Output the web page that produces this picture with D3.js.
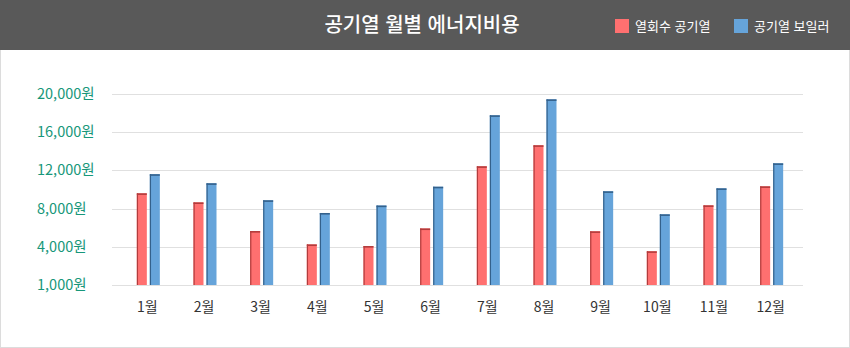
<!DOCTYPE html>
<html lang="ko">
<head>
<meta charset="utf-8">
<script src="https://cdn.jsdelivr.net/npm/d3@7"></script>
<style>
  html, body { margin: 0; padding: 0; background: #fff; }
  svg { display: block; font-family: "Noto Sans CJK KR", "Noto Sans", sans-serif; }
</style>
</head>
<body>
<svg id="chart" width="850" height="348"></svg>
<script>
// Monthly energy cost for two air-source systems (KRW)
const months = ["1월","2월","3월","4월","5월","6월","7월","8월","9월","10월","11월","12월"];
const seriesNames = ["열회수 공기열", "공기열 보일러"];
const heatRecovery = [9600, 8650, 5650, 4250, 4080, 5920, 12430, 14630, 5620, 3530, 8340, 10330];
const airBoiler = [11600, 10650, 8870, 7540, 8320, 10290, 17770, 19440, 9810, 7400, 10120, 12740];
const tickValues = [0, 4000, 8000, 12000, 16000, 20000];
const tickLabels = ["1,000원", "4,000원", "8,000원", "12,000원", "16,000원", "20,000원"];

const fills = ["#ff7070", "#66a4da"];
const edges = ["#b23c3c", "#34618b"];

const svg = d3.select("#chart");
const W = 850, H = 348;

// frame
svg.append("rect").attr("x", 0.5).attr("y", 0.5).attr("width", W - 1).attr("height", H - 1)
  .attr("fill", "#fff").attr("stroke", "#dcdcdc");

// header band
svg.append("rect").attr("x", 0).attr("y", 0).attr("width", W).attr("height", 50).attr("fill", "#595959");
svg.append("text").attr("x", 422).attr("y", 32).attr("text-anchor", "middle")
  .attr("fill", "#fff").attr("font-size", 20).attr("font-weight", 500)
  .text("공기열 월별 에너지비용");

// legend
const legendX = [615, 734];
seriesNames.forEach((name, i) => {
  svg.append("rect").attr("x", legendX[i]).attr("y", 19).attr("width", 14).attr("height", 14).attr("fill", fills[i]);
  svg.append("text").attr("x", legendX[i] + 20).attr("y", 31)
    .attr("fill", "#fff").attr("font-size", 13).text(name);
});

// scales
const y = d3.scaleLinear().domain([0, 20000]).range([285, 94]);
const x0 = d3.scaleBand().domain(months).range([120, 800]);
const x1 = d3.scaleBand().domain(seriesNames).range([0, 23]).paddingInner(3 / 13);

// grid
svg.append("g").selectAll("line").data(tickValues).join("line")
  .attr("x1", 112).attr("x2", 803)
  .attr("y1", d => Math.round(y(d)) + 0.5).attr("y2", d => Math.round(y(d)) + 0.5)
  .attr("stroke", "#e0e0e0").attr("stroke-width", 1);

// y labels
svg.append("g").selectAll("text").data(tickValues).join("text")
  .attr("x", 37).attr("y", d => y(d)).attr("dy", "0.35em")
  .attr("fill", "#17977a").attr("font-size", 14.5)
  .text((d, i) => tickLabels[i]);

// x labels
svg.append("g").selectAll("text").data(months).join("text")
  .attr("x", d => x0(d) + x0.bandwidth() / 2 - 1).attr("y", 307).attr("dy", "0.35em")
  .attr("text-anchor", "middle").attr("fill", "#333").attr("font-size", 14)
  .text(d => d);

// bars
const rows = months.map((m, i) => ({ month: m, values: [heatRecovery[i], airBoiler[i]] }));
const groups = svg.append("g").selectAll("g").data(rows).join("g")
  .attr("transform", d => `translate(${x0(d.month) + x0.bandwidth() / 2 - 11.5},0)`);

groups.each(function (d) {
  const g = d3.select(this);
  d.values.forEach((v, i) => {
    const bx = x1(seriesNames[i]);
    const bw = x1.bandwidth();
    const top = y(v);
    g.append("rect").attr("x", bx).attr("y", top).attr("width", bw).attr("height", y(0) - top).attr("fill", fills[i]);
    g.append("rect").attr("x", bx).attr("y", top).attr("width", 1.2).attr("height", y(0) - top).attr("fill", edges[i]);
    g.append("rect").attr("x", bx).attr("y", top).attr("width", bw).attr("height", 1.6).attr("fill", edges[i]);
  });
});
</script>
</body>
</html>
